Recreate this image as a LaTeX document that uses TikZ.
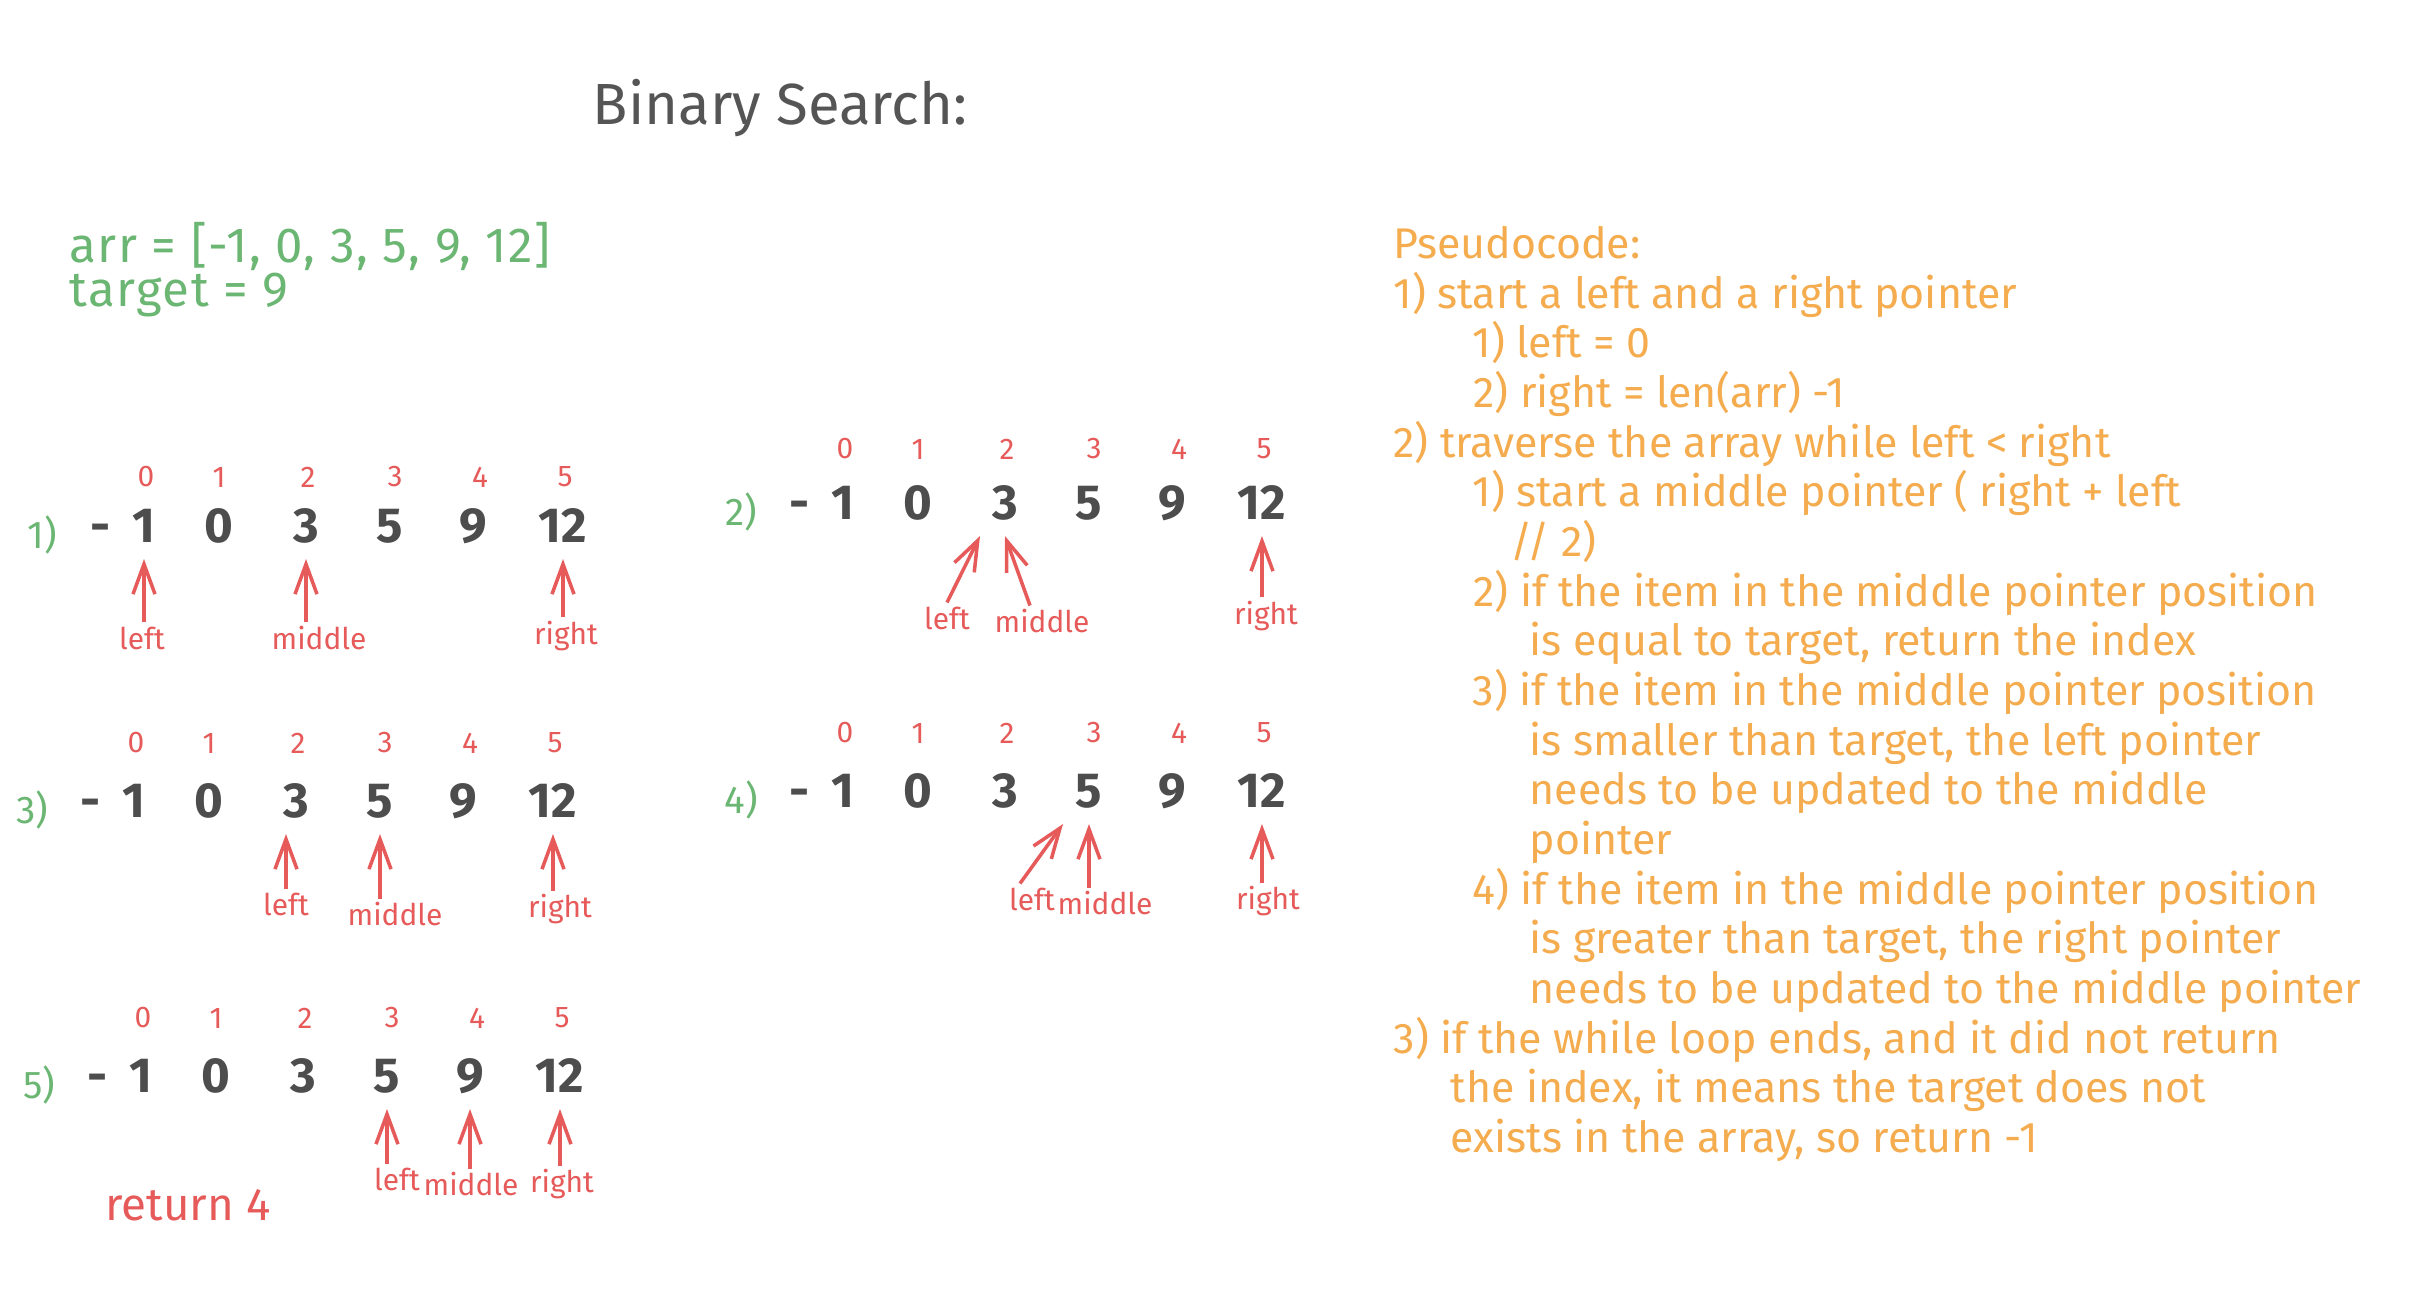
\documentclass[tikz,border=0pt]{standalone}
\usepackage{fontspec}
\setmainfont{Fira Sans}
\usetikzlibrary{arrows.meta}

\definecolor{numgrey}{HTML}{4D4D4D}
\definecolor{titlegrey}{HTML}{555555}
\definecolor{stepgreen}{HTML}{6BB672}
\definecolor{ptrred}{HTML}{E65A5A}
\definecolor{codeorange}{HTML}{F4AC4E}

\begin{document}
\begin{tikzpicture}[x=0.01cm,y=-0.01cm,
    num/.style={font=\fontsize{14}{16}\selectfont\bfseries, text=numgrey, inner sep=0pt, outer sep=0.17cm, text height=0.34cm, text depth=0pt},
    idx/.style={font=\fontsize{8.5}{10}\selectfont, text=ptrred, inner sep=0pt},
    rowlabel/.style={font=\fontsize{11}{13}\selectfont, text=stepgreen, inner sep=0pt},
    tag/.style={font=\fontsize{8.5}{10}\selectfont, text=ptrred, inner sep=0pt, outer sep=0.05cm, text height=0.22cm, text depth=0.07cm},
    ptr/.style={draw=ptrred, line width=1pt, -{Straight Barb[length=0.3cm,width=0.22cm]}},
    code/.style={anchor=west, font=\fontsize{12.2}{14}\selectfont, text=codeorange, inner sep=0pt, text height=0.3cm, text depth=0.1cm},
    given/.style={anchor=west, font=\fontsize{14}{16}\selectfont\addfontfeature{LetterSpace=3}, text=stepgreen, inner sep=0pt}]

    \fill[white] (0,0) rectangle (2412,1312);

    \node[font=\fontsize{16.5}{18}\selectfont, text=titlegrey] (title) at (780,108) {Binary Search:};

    \node[given] (arr) at (69,246) {arr = [-1, 0, 3, 5, 9, 12]};
    \node[given] (target) at (69,295) {target = 9};

    % the five steps of the search
    \foreach \r/\xo/\yn/\yi in {1/144/525/477, 2/843/502/449, 3/134/800/743, 4/843/790/733, 5/141/1075/1018} {
        \node[rowlabel] (k\r) at (\xo-102,\yn+10) {\r)};
        \node[num] (d\r) at (\xo-43,\yn) {-};
        \foreach \v/\dx/\di [count=\i from 0] in {1/0/2, 0/75/75, 3/162/164, 5/246/251, 9/329/336, 12/419/421} {
            \node[num] (n\r-\i) at (\xo+\dx,\yn) {\v};
            \node[idx] (i\r-\i) at (\xo+\di,\yi) {\i};
        }
    }

    \node[tag] (left1) at (142,642) {left};
    \node[tag] (mid1) at (319,642) {middle};
    \node[tag] (right1) at (566,637) {right};
    \draw[ptr] (n1-0 |- left1.north) -- (n1-0.south);
    \draw[ptr] (n1-2 |- mid1.north) -- (n1-2.south);
    \draw[ptr] (n1-5 |- right1.north) -- (n1-5.south);

    \node[tag] (left2) at (947,622) {left};
    \node[tag] (mid2) at (1042,625) {middle};
    \node[tag] (right2) at (1266,617) {right};
    \draw[ptr] (left2.north) -- ([xshift=-0.25cm]n2-2.south);
    \draw[ptr] ([xshift=-0.12cm]mid2.north) -- (n2-2.south);
    \draw[ptr] (n2-5 |- right2.north) -- (n2-5.south);

    \node[tag] (left3) at (286,908) {left};
    \node[tag] (mid3) at (395,918) {middle};
    \node[tag] (right3) at (560,910) {right};
    \draw[ptr] (left3.north) -- (left3.north |- n3-2.south);
    \draw[ptr] (n3-3 |- mid3.north) -- (n3-3.south);
    \draw[ptr] (n3-5 |- right3.north) -- (n3-5.south);

    \node[tag] (left4) at (1032,903) {left};
    \node[tag] (mid4) at (1105,907) {middle};
    \node[tag] (right4) at (1268,902) {right};
    \draw[ptr] ([xshift=-0.12cm]left4.north) -- ([xshift=-0.26cm]n4-3.south);
    \draw[ptr] (n4-3 |- mid4.north) -- (n4-3.south);
    \draw[ptr] (n4-5 |- right4.north) -- (n4-5.south);

    \node[tag] (left5) at (397,1183) {left};
    \node[tag] (mid5) at (471,1188) {middle};
    \node[tag] (right5) at (562,1185) {right};
    \draw[ptr] (n5-3 |- left5.north) -- (n5-3.south);
    \draw[ptr] (n5-4 |- mid5.north) -- (n5-4.south);
    \draw[ptr] (n5-5 |- right5.north) -- (n5-5.south);

    \node[font=\fontsize{13}{15}\selectfont, text=ptrred] (ret) at (188,1205) {return 4};

    % pseudocode
    \node[code] (p0) at (1393,248) {Pseudocode:};
    \node[code] (p1) at (1393,298) {1) start a left and a right pointer};
    \node[code] (p2) at (1472,347) {1) left = 0};
    \node[code] (p3) at (1473,397) {2) right = len(arr) -1};
    \node[code] (p4) at (1393,447) {2) traverse the array while left < right};
    \node[code] (p5) at (1472,496) {1) start a middle pointer ( right + left};
    \node[code] (p6) at (1510,546) {// 2)};
    \node[code] (p7) at (1473,596) {2) if the item in the middle pointer position};
    \node[code] (p8) at (1529,645) {is equal to target, return the index};
    \node[code] (p9) at (1472,695) {3) if the item in the middle pointer position};
    \node[code] (p10) at (1529,745) {is smaller than target, the left pointer};
    \node[code] (p11) at (1529,794) {needs to be updated to the middle};
    \node[code] (p12) at (1529,844) {pointer};
    \node[code] (p13) at (1472,894) {4) if the item in the middle pointer position};
    \node[code] (p14) at (1529,943) {is greater than target, the right pointer};
    \node[code] (p15) at (1529,993) {needs to be updated to the middle pointer};
    \node[code] (p16) at (1393,1043) {3) if the while loop ends, and it did not return};
    \node[code] (p17) at (1450,1092) {the index, it means the target does not};
    \node[code] (p18) at (1450,1142) {exists in the array, so return -1};
\end{tikzpicture}
\end{document}
